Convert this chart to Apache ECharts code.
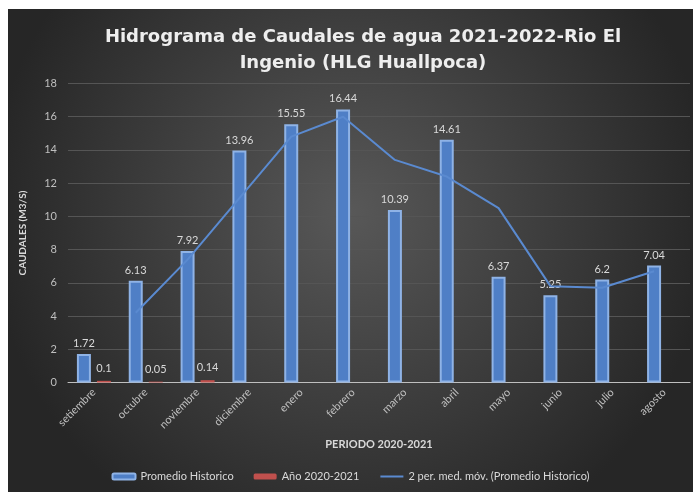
<!DOCTYPE html>
<html>
<head>
<meta charset="utf-8">
<script src="https://cdn.jsdelivr.net/npm/echarts@6/dist/echarts.min.js"></script>
<style>
  html, body { margin: 0; padding: 0; background: #fff; }
  #chart { position: absolute; left: 8px; top: 9px; width: 685px; height: 483px; }
</style>
</head>
<body>
<div id="chart"></div>
<script>
// meses del periodo
const months = ['setiembre', 'octubre', 'noviembre', 'diciembre', 'enero', 'febrero',
  'marzo', 'abril', 'mayo', 'junio', 'julio', 'agosto'];
// Promedio Historico (m3/s)
const promedioHistorico = [1.72, 6.13, 7.92, 13.96, 15.55, 16.44, 10.39, 14.61, 6.37, 5.25, 6.2, 7.04];
// Año 2020-2021, solo hay datos de los primeros meses
const anio2020 = [0.1, 0.05, 0.14, null, null, null, null, null, null, null, null, null];
// 2 per. med. móv.
const mediaMovil = [null, 4.2, 7.4, 11.1, 14.8, 16.0, 13.4, 12.4, 10.5, 5.8, 5.7, 6.7];
const yTicks = [0, 2, 4, 6, 8, 10, 12, 14, 16, 18];

const chart = echarts.init(document.getElementById('chart'));

// geometria de barras, la linea va sobre el centro de la barra azul
const gridLeft = 60, gridRight = 3;
const barW = 14, gapPx = 6;
const catW = (685 - gridLeft - gridRight) / months.length;
const shift = (barW + gapPx) / 2 / catW;

const txt = '#d9d9d9';
const font = 'Lato, "Open Sans", sans-serif';

const option = {
  backgroundColor: {
    type: 'radial', x: 0.5, y: 0.42, r: 0.75,
    colorStops: [{ offset: 0, color: '#585858' }, { offset: 1, color: '#262626' }]
  },
  title: {
    text: 'Hidrograma de Caudales de agua 2021-2022-Rio El\nIngenio (HLG Huallpoca)',
    left: 350,
    textAlign: 'center',
    top: 10,
    textStyle: {
      color: '#eeeeee', fontSize: 18, fontWeight: 'bold',
      fontFamily: '"DejaVu Sans", sans-serif', lineHeight: 26
    }
  },
  legend: {
    bottom: 5,
    left: 'center',
    itemWidth: 23,
    itemHeight: 6,
    itemGap: 20,
    textStyle: { color: txt, fontSize: 11, fontFamily: font },
    data: [
      { name: 'Promedio Historico' },
      { name: 'Año 2020-2021' },
      { name: '2 per. med. móv. (Promedio Historico)', itemStyle: { opacity: 0 } }
    ]
  },
  grid: { left: gridLeft, right: gridRight, top: 74.5, bottom: 109.5 },
  xAxis: [{
    type: 'category',
    data: months,
    name: 'PERIODO 2020-2021',
    nameLocation: 'middle',
    nameGap: 56,
    nameTextStyle: { color: txt, fontSize: 11, fontWeight: 'bold', fontFamily: font },
    axisLine: { lineStyle: { color: '#bfbfbf', width: 1 } },
    axisTick: { show: false },
    axisLabel: { color: '#bfbfbf', fontSize: 11, rotate: 45, interval: 0, fontFamily: font, margin: 8 }
  }, {
    type: 'value',
    show: false,
    min: -0.5 + shift,
    max: months.length - 0.5 + shift
  }],
  yAxis: {
    type: 'value',
    min: 0,
    max: 18,
    interval: 2,
    name: 'CAUDALES (M3/S)',
    nameLocation: 'middle',
    nameGap: 40,
    nameTextStyle: { color: txt, fontSize: 10, fontWeight: 'bold', fontFamily: font },
    axisLine: { show: false },
    axisTick: { show: false },
    axisLabel: {
      color: '#bfbfbf', fontSize: 11, fontFamily: font, margin: 11,
      formatter: v => yTicks.includes(v) ? String(v) : ''
    },
    splitLine: { lineStyle: { color: '#555555', width: 1 } }
  },
  series: [{
    name: 'Promedio Historico',
    type: 'bar',
    data: promedioHistorico,
    barWidth: barW,
    barGap: (gapPx / barW * 100).toFixed(0) + '%',
    itemStyle: { color: '#4f7fc6', borderColor: '#8fb3e6', borderWidth: 2 },
    label: { show: true, position: 'top', distance: 5, color: txt, fontSize: 11, fontFamily: font }
  }, {
    name: 'Año 2020-2021',
    type: 'bar',
    data: anio2020,
    barWidth: barW,
    itemStyle: { color: '#c0504d', borderColor: '#e08a88', borderWidth: 0 },
    label: { show: true, position: 'top', distance: 7, color: txt, fontSize: 11, fontFamily: font }
  }, {
    name: '2 per. med. móv. (Promedio Historico)',
    type: 'line',
    xAxisIndex: 1,
    data: mediaMovil.map((v, i) => [i, v]),
    showSymbol: false,
    symbol: 'none',
    connectNulls: false,
    lineStyle: { color: '#5a8ad0', width: 2 },
    itemStyle: { color: '#5a8ad0' },
    z: 3
  }]
};

chart.setOption(option);
</script>
</body>
</html>
